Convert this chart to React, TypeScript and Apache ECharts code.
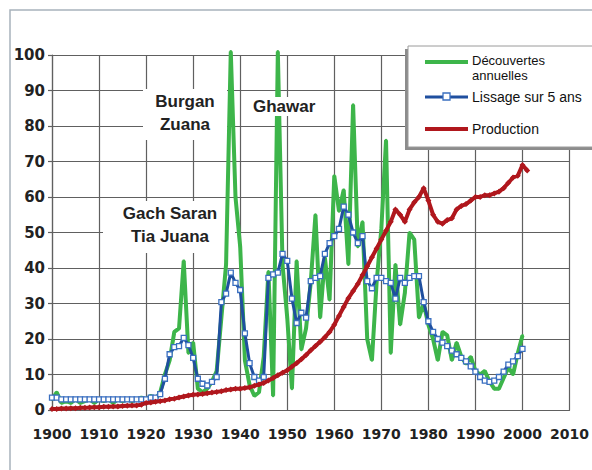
import React, { useEffect, useRef } from "react";
import * as echarts from "echarts";

const startYear = 1900;

// Découvertes annuelles (1900-2000)
const discoveries = [
  3, 5, 2, 2.5, 2, 3, 2, 2.5, 3, 2,
  3, 2.5, 3, 2, 3, 2.5, 3, 2.5, 3, 3.5,
  3, 4, 3, 5, 10, 14, 22, 23, 42, 16,
  19, 6, 5, 6, 8, 11, 26, 41, 101, 60,
  46, 14, 7, 4, 5, 15, 39, 4, 101, 41,
  26, 6, 42, 17, 23, 36, 55, 26, 43, 31,
  66, 56, 62, 41, 86, 46, 53, 20, 14, 36,
  51, 76, 16, 41, 24, 33, 50, 48, 26, 30,
  24, 20, 14, 22, 21, 14, 19, 15, 13, 15,
  11, 10, 11, 8, 6, 6, 9, 12, 10, 16,
  21,
];

// Lissage sur 5 ans (1900-2000)
const smoothing = [
  3.5, 3.5, 3, 3, 3, 3, 3, 3, 3, 3,
  3, 3, 3, 3, 3, 3, 3, 3, 3, 3,
  3, 3.5, 3.5, 4.5, 8.8, 15.7, 17.7, 18, 20.3, 18.3,
  14.7, 8.8, 7.4, 6.9, 7.9, 9.3, 30.4, 32.8, 38.7, 35.8,
  33.8, 21.6, 13.2, 9.3, 8.3, 9.3, 37.2, 38.2, 38.7, 44,
  42, 31.4, 24.5, 27.4, 26, 36.3, 37.2, 37.7, 44, 47,
  49, 51, 57.3, 55, 50, 47, 49, 36.3, 34.3, 37.2,
  37.2, 36.3, 35.8, 31.4, 37.2, 35.8, 37.2, 37.7, 37.7, 30.4,
  25, 22, 20, 19, 18, 16.7, 15.7, 14.7, 13.7, 12.3,
  10.8, 9.3, 8.3, 7.9, 8.3, 9.3, 10.8, 12.8, 13.7, 15.2,
  17.2,
];

// Production (1900-2001)
const production = [
  0.3, 0.3, 0.4, 0.4, 0.5, 0.5, 0.6, 0.6, 0.7, 0.8,
  0.8, 0.9, 0.9, 1.0, 1.0, 1.1, 1.2, 1.3, 1.3, 1.5,
  2.0, 2.1, 2.3, 2.5, 2.7, 3.0, 3.2, 3.5, 3.8, 4.1,
  4.3, 4.4, 4.5, 4.7, 4.9, 5.1, 5.3, 5.6, 5.8, 6.0,
  6.0, 6.2, 6.4, 6.8, 7.2, 7.6, 8.3, 9.0, 9.8, 10.5,
  11.2, 12.2, 13.2, 14.3, 15.5, 16.8, 18.0, 19.2, 20.5, 22.0,
  24.0, 26.5, 29.0, 31.5, 33.5, 35.5, 38.0, 40.5, 43.0, 45.5,
  48.0, 50.5, 53.0, 56.5, 55.0, 53.0, 56.5, 58.5, 60.0, 62.5,
  59.0, 55.0, 53.0, 52.5, 53.5, 54.0, 56.5, 57.5, 58.0, 59.0,
  60.0, 60.0, 60.5, 60.5, 61.0, 61.5, 62.5, 64.0, 65.5, 66.0,
  69.0, 67.5,
];

const seriesNames = ["Découvertes annuelles", "Lissage sur 5 ans", "Production"];
const legendLabels = ["Découvertes", "annuelles", "Lissage sur 5 ans", "Production"];
const annotations = ["Burgan\nZuana", "Ghawar", "Gach Saran\nTia Juana"];

const GREEN = "#3db54a";
const BLUE = "#1f4f9f";
const RED = "#b0171d";
const GRID = "#606060";
const FONT_FAMILY = "Liberation Sans, Arial, sans-serif";

const toPairs = (arr: number[]) => arr.map((v, i) => [startYear + i, v]);

export default function App() {
  const ref = useRef<HTMLDivElement>(null);
  useEffect(() => {
    if (!ref.current) return;
    const chart = echarts.init(ref.current, undefined, { renderer: "svg" });
    const tickLabel = {
      fontFamily: "DejaVu Sans",
      fontWeight: "bold" as const,
      color: "#222",
    };
    const legendText = (text: string, y: number, size: number) => ({
      type: "text",
      z: 22,
      silent: true,
      x: 472,
      y,
      style: {
        text,
        font: `${size}px ${FONT_FAMILY}`,
        fill: "#111",
        align: "left",
        verticalAlign: "middle",
      },
    });
    const option: any = {
      animation: false,
      backgroundColor: "#ffffff",
      textStyle: { fontFamily: FONT_FAMILY },
      grid: { left: 52, right: 17, top: 55, bottom: 60 },
      xAxis: {
        type: "value",
        min: 1900,
        max: 2010,
        interval: 10,
        axisLine: { show: true, onZero: false, lineStyle: { color: GRID, width: 1.2 } },
        axisTick: { show: false },
        axisLabel: { ...tickLabel, fontSize: 14, margin: 17, formatter: (v: number) => String(v) },
        splitLine: { show: true, lineStyle: { color: GRID, width: 1.2 } },
      },
      yAxis: {
        type: "value",
        min: 0,
        max: 100,
        interval: 10,
        axisLine: { show: true, lineStyle: { color: GRID, width: 1.2 } },
        axisTick: { show: true, length: 4, lineStyle: { color: GRID, width: 1.2 } },
        axisLabel: { ...tickLabel, fontSize: 15, margin: 7 },
        splitLine: { show: true, lineStyle: { color: GRID, width: 1.2 } },
      },
      series: [
        {
          name: seriesNames[0],
          type: "line",
          data: toPairs(discoveries),
          clip: false,
          symbol: "circle",
          symbolSize: 3,
          showSymbol: true,
          lineStyle: { color: GREEN, width: 4 },
          itemStyle: { color: GREEN },
          z: 2,
        },
        {
          name: seriesNames[1],
          type: "line",
          data: toPairs(smoothing),
          symbol: "rect",
          symbolSize: 5,
          showSymbol: true,
          lineStyle: { color: BLUE, width: 3 },
          itemStyle: { color: "#ffffff", borderColor: "#3a6fc0", borderWidth: 1.3 },
          z: 3,
        },
        {
          name: seriesNames[2],
          type: "line",
          data: toPairs(production),
          symbol: "diamond",
          symbolSize: 6,
          showSymbol: true,
          lineStyle: { color: RED, width: 4 },
          itemStyle: { color: RED },
          z: 4,
        },
      ],
      graphic: [
        {
          type: "rect",
          z: 0,
          silent: true,
          shape: { x: 10, y: 10, width: 700, height: 700 },
          style: { fill: "none", stroke: "#a8b2bc", lineWidth: 1.5 },
        },
        {
          type: "rect",
          z: 1,
          silent: true,
          shape: { x: 143, y: 89, width: 84, height: 51 },
          style: { fill: "#ffffff" },
        },
        {
          type: "text",
          z: 1,
          silent: true,
          x: 185,
          y: 90,
          style: {
            text: annotations[0],
            font: `bold 17px ${FONT_FAMILY}`,
            fill: "#222",
            align: "center",
            verticalAlign: "top",
            lineHeight: 23,
          },
        },
        {
          type: "rect",
          z: 10,
          silent: true,
          shape: { x: 251, y: 97, width: 70, height: 19 },
          style: { fill: "#ffffff" },
        },
        {
          type: "text",
          z: 10,
          silent: true,
          x: 253,
          y: 106,
          style: {
            text: annotations[1],
            font: `bold 17px ${FONT_FAMILY}`,
            fill: "#222",
            align: "left",
            verticalAlign: "middle",
          },
        },
        {
          type: "rect",
          z: 1,
          silent: true,
          shape: { x: 103, y: 201, width: 132, height: 52 },
          style: { fill: "#ffffff" },
        },
        {
          type: "text",
          z: 1,
          silent: true,
          x: 170,
          y: 202,
          style: {
            text: annotations[2],
            font: `bold 17px ${FONT_FAMILY}`,
            fill: "#222",
            align: "center",
            verticalAlign: "top",
            lineHeight: 23,
          },
        },
        {
          type: "rect",
          z: 20,
          silent: true,
          shape: { x: 405, y: 49, width: 200, height: 101 },
          style: { fill: "#8c8c8c" },
        },
        {
          type: "rect",
          z: 21,
          silent: true,
          shape: { x: 408, y: 46, width: 200, height: 101 },
          style: { fill: "#ffffff", stroke: "#9a9a9a", lineWidth: 1 },
        },
        {
          type: "line",
          z: 22,
          silent: true,
          shape: { x1: 425, y1: 62, x2: 468, y2: 62 },
          style: { stroke: GREEN, lineWidth: 4 },
        },
        {
          type: "line",
          z: 22,
          silent: true,
          shape: { x1: 425, y1: 97, x2: 468, y2: 97 },
          style: { stroke: BLUE, lineWidth: 3 },
        },
        {
          type: "rect",
          z: 23,
          silent: true,
          shape: { x: 443, y: 93, width: 7, height: 7 },
          style: { fill: "#ffffff", stroke: "#3a6fc0", lineWidth: 1.3 },
        },
        {
          type: "line",
          z: 22,
          silent: true,
          shape: { x1: 425, y1: 129, x2: 468, y2: 129 },
          style: { stroke: RED, lineWidth: 4 },
        },
        legendText(legendLabels[0], 60, 13),
        legendText(legendLabels[1], 75, 13),
        legendText(legendLabels[2], 97, 14),
        legendText(legendLabels[3], 129, 14),
      ],
    };
    chart.setOption(option);
    return () => chart.dispose();
  }, []);
  return (
    <div
      ref={ref}
      style={{ position: "fixed", left: 0, top: 0, width: 592, height: 470, background: "#fff" }}
    />
  );
}
